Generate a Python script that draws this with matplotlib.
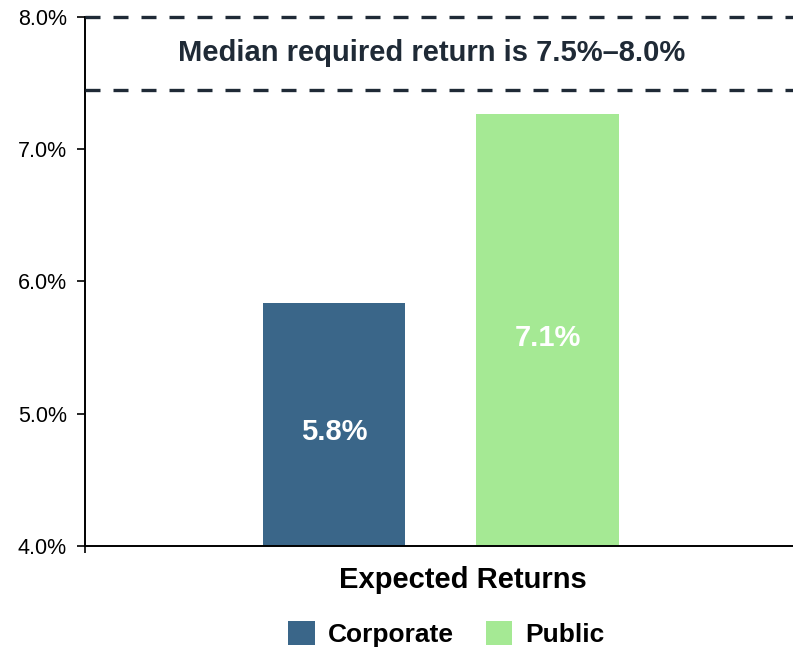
import matplotlib
matplotlib.use("Agg")

import matplotlib.pyplot as plt
from matplotlib.patches import Patch

plt.rcParams["font.family"] = ["Liberation Sans", "DejaVu Sans"]

categories = ["Corporate", "Public"]
values = [5.84, 7.27]
value_labels = ["5.8%", "7.1%"]
colors = ["#3a6689", "#a5e994"]
band_low, band_high = 7.45, 8.0
band_text = "Median required return is 7.5%\u20138.0%"
yticks = [4.0, 5.0, 6.0, 7.0, 8.0]

fig = plt.figure(figsize=(7.93, 6.51), dpi=100)
ax = fig.add_axes([0.1072, 0.1613, 0.8928, 0.8126])

x = list(range(len(categories)))
ax.bar(x, values, width=0.667, color=colors, bottom=0, zorder=2)

for xi, v, lab in zip(x, values, value_labels):
    ax.text(xi, (4.0 + v) / 2 - 0.06, lab, ha="center", va="center",
            color="white", fontsize=21, fontweight="bold", zorder=3)

for yv in (band_low, band_high):
    ax.axhline(yv, color="#1f2a36", lw=2.4, ls=(0, (4.5, 3.9)), zorder=3,
               clip_on=False)
ax.text(0.489, 7.728, band_text, transform=ax.get_yaxis_transform(),
        ha="center", va="center", fontsize=21, fontweight="bold",
        color="#1f2a36")

ax.set_ylim(4.0, 8.0)
ax.set_xlim(-1.166, 2.15)
ax.set_yticks(yticks)
ax.set_yticklabels([f"{t:.1f}%" for t in yticks], fontsize=15.5)
ax.tick_params(axis="y", length=6, width=1.2, pad=7, direction="out")
ax.set_xticks([-1.166])
ax.set_xticklabels([""])
ax.tick_params(axis="x", length=5, width=1.2, direction="out")

for side in ("top", "right"):
    ax.spines[side].set_visible(False)
for side in ("left", "bottom"):
    ax.spines[side].set_linewidth(1.4)
    ax.spines[side].set_color("black")

fig.text(0.584, 0.109, "Expected Returns", ha="center", va="center",
         fontsize=21, fontweight="bold")

handles = [Patch(facecolor=c, label=n) for c, n in zip(colors, categories)]
fig.legend(handles=handles, loc="center", bbox_to_anchor=(0.563, 0.026),
           ncol=2, frameon=False, handlelength=1.0, handleheight=1.0,
           columnspacing=1.2, handletextpad=0.5,
           prop={"size": 19, "weight": "bold"})

fig.savefig("out.png", dpi=100)
